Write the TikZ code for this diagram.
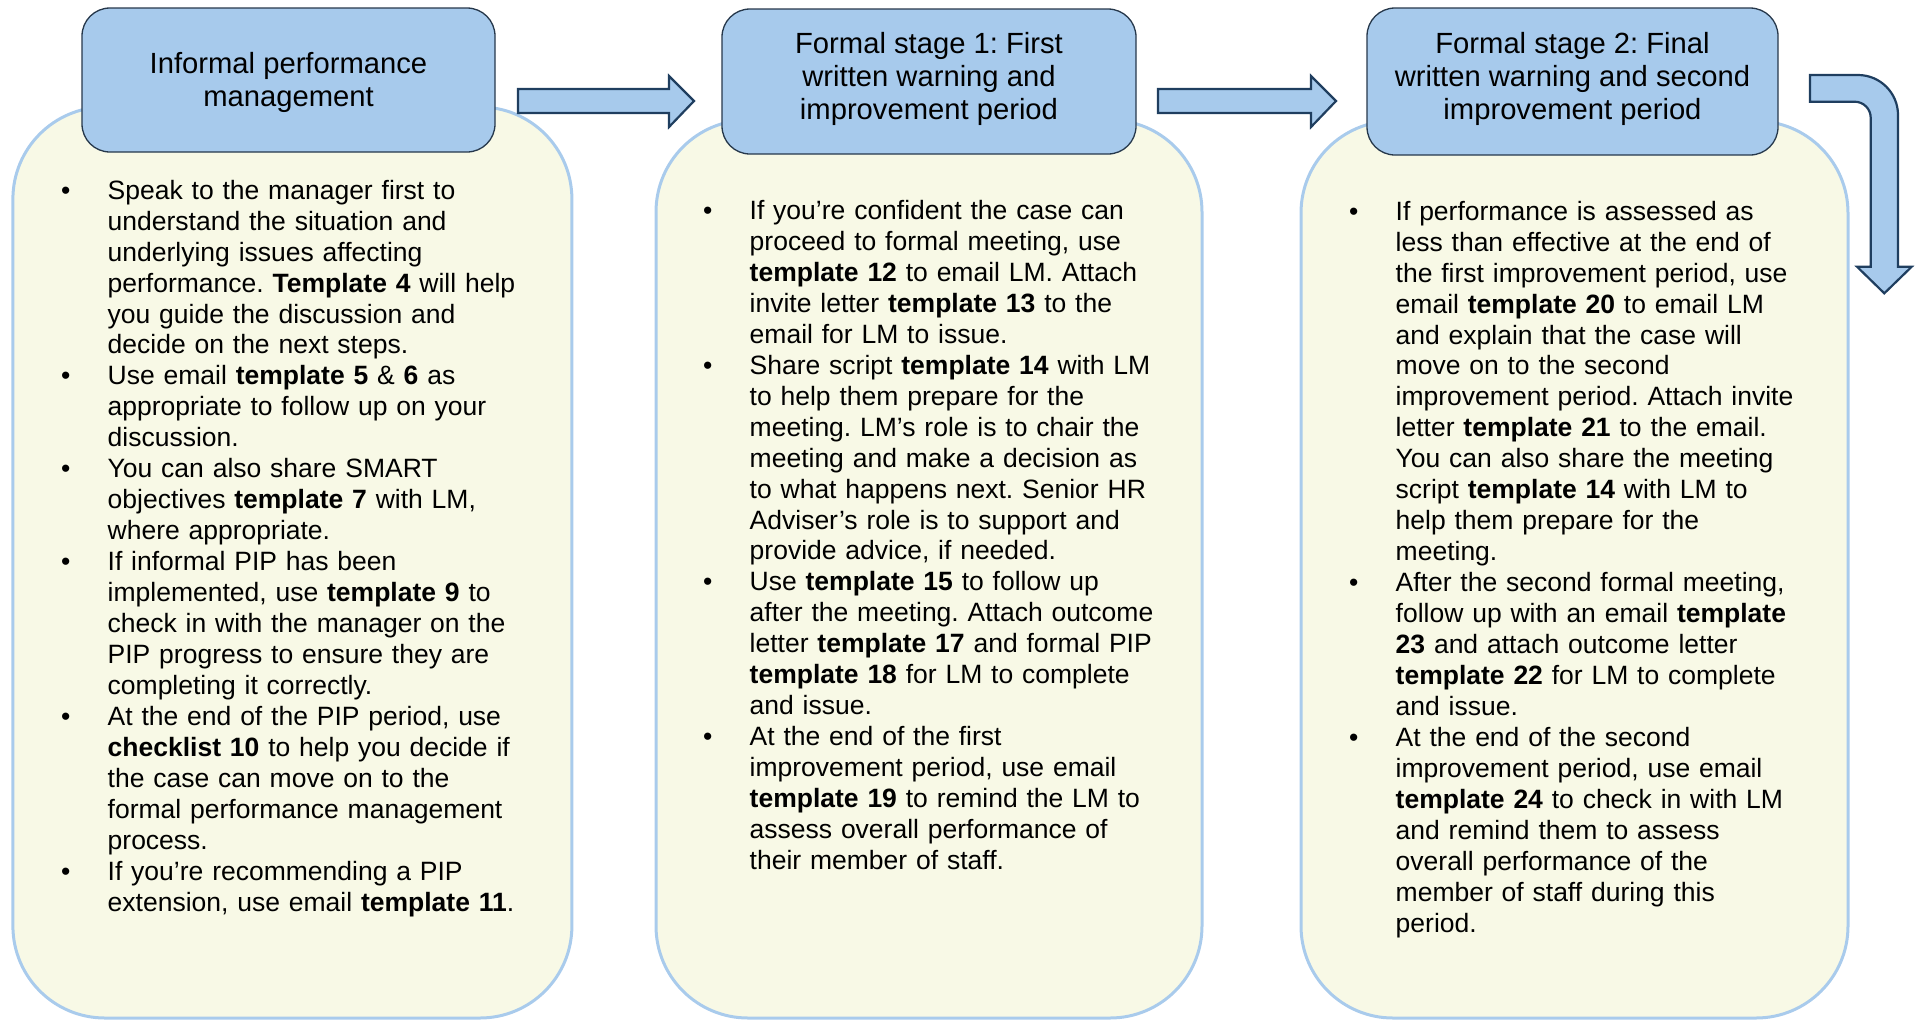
\documentclass[tikz,border=0pt]{standalone}
\usepackage{fontspec}
\setmainfont{Liberation Sans}
\frenchspacing
\definecolor{hdrfill}{HTML}{A7CAEC}
\definecolor{hdrline}{HTML}{26384B}
\definecolor{arrline}{HTML}{1F3E5F}
\definecolor{panelfill}{HTML}{F8F9E6}
\definecolor{panelline}{HTML}{A9CBEC}
\newlength{\hw}
\setlength{\hw}{46.5pt}
\newcommand\bul[1]{\hangindent=\hw\hangafter=1\noindent\makebox[\hw][l]{\textbullet}#1\par}
\tikzset{
  panel/.style={draw=panelline, line width=3pt, fill=panelfill, rounded corners=92pt, inner sep=0pt},
  header/.style={draw=hdrline, line width=1.3pt, fill=hdrfill, rounded corners=28pt, inner sep=0pt,
    align=center, font=\fontsize{29.2}{33}\selectfont},
  bodytext/.style={anchor=north west, inner sep=0pt, text width=600pt, align=left,
    font=\fontsize{26.5}{30.95}\selectfont\frenchspacing},
  blockarrow/.style={draw=arrline, line width=2.2pt, fill=hdrfill, line join=miter},
}
\begin{document}
\begin{tikzpicture}[x=1pt,y=-1pt]
\useasboundingbox (0,0) rectangle (1919,1021);
% panels
\node[panel, minimum width=559pt, minimum height=911pt] (p1) at (292.4,562.5) {};
\node[panel, minimum width=546pt, minimum height=898pt] (p2) at (929,569) {};
\node[panel, minimum width=547pt, minimum height=897pt] (p3) at (1574.5,569.5) {};
% headers
\node[header, minimum width=413pt, minimum height=144pt] (h1) at (288.5,80) {\rule{0pt}{26pt}Informal performance\\management};
\node[header, minimum width=414pt, minimum height=145pt] (h2) at (929,81.5) {Formal stage 1: First\\written warning and\\improvement period\rule[-12pt]{0pt}{12pt}};
\node[header, minimum width=411pt, minimum height=147pt] (h3) at (1572.5,81.5) {Formal stage 2: Final\\written warning and second\\improvement period\rule[-12pt]{0pt}{12pt}};
% block arrows
\draw[blockarrow] (518,89) -- (669,89) -- (669,76) -- (694,101) -- (669,127) -- (669,113) -- (518,113) -- cycle;
\draw[blockarrow] (1158,89) -- (1311,89) -- (1311,76) -- (1336,101) -- (1311,127) -- (1311,113) -- (1158,113) -- cycle;
\draw[blockarrow] (1810,75) -- (1858,75) .. controls (1880.1,75) and (1898,92.9) .. (1898,115)
  -- (1898,266.7) -- (1911.7,266.7) -- (1884.3,293.3) -- (1857,266.7) -- (1870.7,266.7)
  -- (1870.7,117.7) .. controls (1870.7,108.9) and (1863.5,101.7) .. (1854.7,101.7)
  -- (1810,101.7) -- cycle;
% body texts
\node[bodytext] (t1) at (61,177) {%
\bul{\rule{0pt}{22pt}Speak to the manager first to\newline understand the situation and\newline underlying issues affecting\newline performance. \textbf{Template 4} will help\newline you guide the discussion and\newline decide on the next steps.}
\bul{Use email \textbf{template 5} \& \textbf{6} as\newline appropriate to follow up on your\newline discussion.}
\bul{You can also share SMART\newline objectives \textbf{template 7} with LM,\newline where appropriate.}
\bul{If informal PIP has been\newline implemented, use \textbf{template 9} to\newline check in with the manager on the\newline PIP progress to ensure they are\newline completing it correctly.}
\bul{At the end of the PIP period, use\newline \textbf{checklist 10} to help you decide if\newline the case can move on to the\newline formal performance management\newline process.}
\bul{If you’re recommending a PIP\newline extension, use email \textbf{template 11}.}};
\node[bodytext] (t2) at (703,197.3) {%
\bul{\rule{0pt}{22pt}If you’re confident the case can\newline proceed to formal meeting, use\newline \textbf{template 12} to email LM. Attach\newline invite letter \textbf{template 13} to the\newline email for LM to issue.}
\bul{Share script \textbf{template 14} with LM\newline to help them prepare for the\newline meeting. LM’s role is to chair the\newline meeting and make a decision as\newline to what happens next. Senior HR\newline Adviser’s role is to support and\newline provide advice, if needed.}
\bul{Use \textbf{template 15} to follow up\newline after the meeting. Attach outcome\newline letter \textbf{template 17} and formal PIP\newline \textbf{template 18} for LM to complete\newline and issue.}
\bul{At the end of the first\newline improvement period, use email\newline \textbf{template 19} to remind the LM to\newline assess overall performance of\newline their member of staff.}};
\node[bodytext] (t3) at (1349,198) {%
\bul{\rule{0pt}{22pt}If performance is assessed as\newline less than effective at the end of\newline the first improvement period, use\newline email \textbf{template 20} to email LM\newline and explain that the case will\newline move on to the second\newline improvement period. Attach invite\newline letter \textbf{template 21} to the email.\newline You can also share the meeting\newline script \textbf{template 14} with LM to\newline help them prepare for the\newline meeting.}
\bul{After the second formal meeting,\newline follow up with an email \textbf{template}\newline \textbf{23} and attach outcome letter\newline \textbf{template 22} for LM to complete\newline and issue.}
\bul{At the end of the second\newline improvement period, use email\newline \textbf{template 24} to check in with LM\newline and remind them to assess\newline overall performance of the\newline member of staff during this\newline period.}};
\end{tikzpicture}
\end{document}
